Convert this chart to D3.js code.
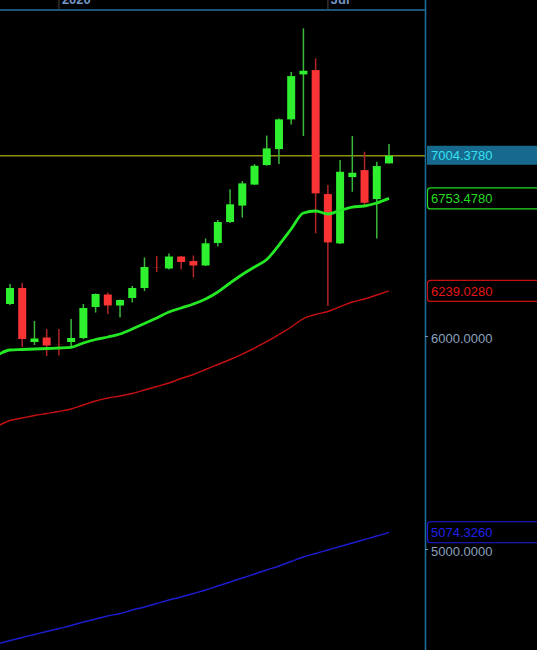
<!DOCTYPE html>
<html>
<head>
<meta charset="utf-8">
<script src="https://cdn.jsdelivr.net/npm/d3@7"></script>
<style>
  html, body { margin: 0; padding: 0; background: #000; }
  svg { display: block; }
  text { font-family: "Liberation Sans", Arial, sans-serif; }
</style>
</head>
<body>
<svg id="chart" width="537" height="650"></svg>
<script>
'use strict'

// candles (oldest first)
const opens = [6169.6, 6254.7, 5972.1, 5995.1, 5962.0, 5972.1, 5992.6, 6153.7, 6220.0, 6161.6, 6201.4, 6254.7, 6366.0, 6359.9, 6425.6, 6400.9,
  6376.3, 6500.3, 6618.2, 6712.0, 6833.7, 6948.8, 7044.7, 7226.1, 7509.9, 7537.7, 6778.4, 6498.2, 6877.8, 6919.1, 6749.4, 6959.0]
const highs = [6276.1, 6281.5, 6080.4, 6038.9, 6038.9, 6090.8, 6169.6, 6225.3, 6230.6, 6193.4, 6265.4, 6420.1, 6428.4, 6442.1, 6428.4, 6431.2,
  6525.4, 6629.6, 6806.2, 6854.3, 6954.8, 7126.6, 7231.0, 7524.8, 7811.6, 7613.6, 6830.9, 6978.7, 7123.5, 7028.4, 6968.5, 7074.9]
const lows = [6164.3, 5946.6, 5956.8, 5900.9, 5903.5, 5946.6, 5987.4, 6124.8, 6116.9, 6098.7, 6177.5, 6238.6, 6340.9, 6354.5, 6354.5, 6311.2,
  6373.6, 6480.9, 6612.6, 6643.4, 6830.9, 6945.8, 6954.8, 7195.2, 7123.5, 6554.2, 6158.7, 6494.3, 6791.8, 6714.9, 6526.1, 6957.8]
const closes = [6254.7, 5987.4, 5990.0, 5954.2, 5961.0, 5992.6, 6148.5, 6222.6, 6161.6, 6190.7, 6254.7, 6368.1, 6365.0, 6425.6, 6395.5, 6376.3,
  6498.7, 6618.2, 6719.3, 6840.8, 6944.6, 7048.9, 7226.1, 7499.0, 7533.1, 6782.5, 6503.8, 6909.1, 6903.2, 6728.2, 6942.9, 7004.378]

// moving averages, first value belongs to the bar just left of the view
const maFast = [5906.0, 5931.3, 5933.8, 5936.4, 5938.9, 5941.5, 5945.0, 5966.9, 5984.9, 5997.7, 6013.1, 6038.9, 6067.4, 6096.1, 6127.4, 6148.5,
  6169.6, 6196.0, 6233.3, 6281.5, 6327.4, 6368.1, 6409.2, 6489.2, 6578.7, 6669.5, 6680.9, 6663.8, 6683.8, 6703.8, 6709.6, 6726.8, 6753.478]
const maMid = [5557.7, 5583.9, 5595.9, 5607.9, 5617.5, 5627.1, 5639.2, 5658.5, 5677.9, 5692.5, 5702.3, 5714.5, 5731.6, 5748.8, 5766.1, 5788.3,
  5808.2, 5833.1, 5858.2, 5883.3, 5911.0, 5941.5, 5973.6, 6010.5, 6049.3, 6093.4, 6114.4, 6130.1, 6155.3, 6180.1, 6196.0, 6217.3, 6239.028]
const maSlow = [4611.4, 4625.3, 4637.2, 4649.1, 4661.1, 4673.0, 4685.0, 4699.1, 4711.2, 4723.3, 4733.4, 4747.7, 4759.8, 4774.1, 4788.4, 4800.8,
  4815.2, 4829.6, 4846.2, 4862.8, 4879.5, 4896.2, 4913.0, 4929.9, 4948.9, 4968.0, 4982.9, 4997.9, 5012.9, 5027.9, 5043.0, 5058.1, 5074.326]

// axis labels
const priceTicks = [6000, 5000]
const timeTickIdx = [4, 26]
const timeTickLabels = ['2020', 'Jul']

const width = 537
const height = 650
const plotRight = 425
const plotTop = 10

const svg = d3.select('#chart')
svg.append('rect').attr('width', width).attr('height', height).attr('fill', '#000')

const x = d3.scaleLinear().domain([0, closes.length - 1]).range([10, 389])
const y = d3.scaleLog().domain([4587.8, 7935.5]).range([height, plotTop])

svg.append('defs').append('clipPath').attr('id', 'plot')
  .append('rect').attr('x', 0).attr('y', plotTop).attr('width', plotRight).attr('height', height - plotTop)

const plot = svg.append('g').attr('clip-path', 'url(#plot)')

// last price line
const last = closes[closes.length - 1]
plot.append('line')
  .attr('x1', 0).attr('x2', plotRight)
  .attr('y1', y(last)).attr('y2', y(last))
  .attr('stroke', '#8e8e12').attr('stroke-width', 1.6)

// moving averages
const maLine = d3.line().x((d, i) => x(i - 1)).y(d => y(d)).curve(d3.curveMonotoneX)
const mas = [
  { data: maSlow, color: '#1c1cd0', w: 1.4 },
  { data: maMid, color: '#c41010', w: 1.4 },
  { data: maFast, color: '#24e824', w: 2.8 }
]

// candles
const candles = closes.map((c, i) => ({ i, o: opens[i], h: highs[i], l: lows[i], c }))
const g = plot.selectAll('.candle').data(candles).enter().append('g').attr('class', 'candle')
g.append('line')
  .attr('x1', d => x(d.i)).attr('x2', d => x(d.i))
  .attr('y1', d => y(d.h)).attr('y2', d => y(d.l))
  .attr('stroke', d => d.c >= d.o ? '#3bb83b' : '#b02626')
  .attr('stroke-width', 1.5)
g.append('rect')
  .attr('x', d => x(d.i) - 4)
  .attr('width', 8)
  .attr('y', d => y(Math.max(d.o, d.c)))
  .attr('height', d => Math.abs(y(d.o) - y(d.c)))
  .attr('fill', d => d.c >= d.o ? '#2ef02e' : '#fa3434')

mas.forEach(m => {
  plot.append('path')
    .attr('d', maLine(m.data))
    .attr('fill', 'none')
    .attr('stroke', m.color)
    .attr('stroke-width', m.w)
    .attr('stroke-linejoin', 'round')
})

// frame
svg.append('line').attr('x1', 0).attr('x2', plotRight).attr('y1', plotTop).attr('y2', plotTop)
  .attr('stroke', '#1b5676').attr('stroke-width', 2)
svg.append('line').attr('x1', plotRight + 0.5).attr('x2', plotRight + 0.5).attr('y1', 0).attr('y2', height)
  .attr('stroke', '#206c98').attr('stroke-width', 1.6)

// time axis (top, mostly cut off as in the source view)
timeTickIdx.forEach((idx, k) => {
  svg.append('line').attr('x1', x(idx)).attr('x2', x(idx)).attr('y1', 0).attr('y2', plotTop - 1)
    .attr('stroke', '#303030').attr('stroke-width', 1.5)
  svg.append('text').attr('x', x(idx) + 3).attr('y', 4)
    .attr('fill', '#7595c4').attr('font-size', 13).attr('font-weight', 'bold')
    .text(timeTickLabels[k])
})

// price axis
const fmt = d3.format('.4f')
priceTicks.forEach(p => {
  svg.append('line').attr('x1', plotRight).attr('x2', plotRight + 3).attr('y1', y(p)).attr('y2', y(p))
    .attr('stroke', '#8095b0')
  svg.append('text').attr('x', 431).attr('y', y(p) + 1.5).attr('dy', '0.35em')
    .attr('fill', '#8ba0be').attr('font-size', 13).text(fmt(p))
})

// value flags
const flags = [
  { v: maSlow[maSlow.length - 1], color: '#1c1ce0', text: '#2020ee' },
  { v: maMid[maMid.length - 1], color: '#c81010', text: '#e61414' },
  { v: maFast[maFast.length - 1], color: '#22dd22', text: '#22dd22' }
]
flags.forEach(f => {
  svg.append('rect').attr('x', 427.5).attr('y', y(f.v) - 10.5).attr('width', 120).attr('height', 21).attr('rx', 3)
    .attr('fill', '#000').attr('stroke', f.color).attr('stroke-width', 1.2)
  svg.append('text').attr('x', 431).attr('y', y(f.v)).attr('dy', '0.36em')
    .attr('fill', f.text).attr('font-size', 13).text(fmt(f.v))
})
svg.append('rect').attr('x', 427).attr('y', y(last) - 10).attr('width', 110).attr('height', 19)
  .attr('fill', '#176a8e')
svg.append('text').attr('x', 431).attr('y', y(last)).attr('dy', '0.36em')
  .attr('fill', '#35e0f0').attr('font-size', 13).text(fmt(last))
</script>
</body>
</html>
